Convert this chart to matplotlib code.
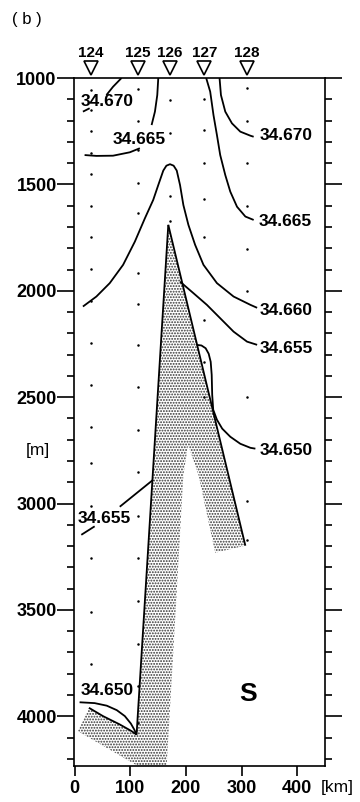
import matplotlib
matplotlib.use('Agg')
import numpy as np
import matplotlib.pyplot as plt
import matplotlib.transforms as mtransforms
from matplotlib.ticker import MultipleLocator

plt.rcParams['font.family'] = ['Liberation Sans', 'DejaVu Sans']
plt.rcParams['hatch.linewidth'] = 0.9

# stations along the section (distance in km)
stations = ['124', '125', '126', '127', '128']
station_km = [29, 114, 171, 233, 310]

# bottle depths (m) at each station
bottle_depths = {
    29: [1056, 1150, 1249, 1352, 1451, 1601, 1747, 1897, 2047, 2245, 2442,
         2639, 2808, 3010, 3255, 3508, 3752],
    114: [1053, 1202, 1338, 1495, 1636, 1915, 2062, 2257, 2453, 2653, 2852,
          3060, 3256, 3457, 3658, 3856, 4031],
    171: [1103, 1258, 1554, 1672],
    233: [1100, 1244, 1398, 1568, 1745, 2137, 2335, 2498],
    310: [1048, 1202, 1401, 1601, 1803, 2000, 2497, 2990, 3170],
}

# salinity isolines, (km, depth) pairs; None marks a break for a label
iso_670_w = [(84.3, 1000), (69.1, 1041), (57.2, 1080), None,
             (27.1, 1142), (15, 1158)]
iso_665_w = [(150.4, 1000), (148.6, 1080), (144.4, 1158), (138.4, 1221), None,
             (117.3, 1330), (99.3, 1349), (69.1, 1365), (39.2, 1366),
             (18, 1362)]
iso_670_e = [(260.5, 1000), (263, 1080), (270.8, 1158), (282.8, 1213),
             (297.8, 1252), (315.9, 1271), (321.8, 1276)]
iso_665_e = [(236.5, 1000), (243.7, 1064), (249.6, 1174), (255.8, 1268),
             (261.7, 1362), (270.8, 1456), (279.8, 1534), (291.9, 1605),
             (306.9, 1651), (321.8, 1667)]
iso_660 = [(15, 2074), (39.2, 2027), (63.2, 1964), (87.2, 1878), (108.3, 1769),
           (126.4, 1659), (141.3, 1573), (150.4, 1503), (159.4, 1435),
           (165, 1412), (171.5, 1405), (178, 1412), (183.6, 1435),
           (189.5, 1503), (195.5, 1597), (204.5, 1690), (216.6, 1784),
           (231.6, 1878), (255.8, 1964), (285.7, 2027), (315.9, 2066),
           (328, 2080)]
iso_655_e = [(189.5, 1957), (213.5, 2011), (237.7, 2066), (261.7, 2129),
             (285.7, 2192), (309.9, 2239), (328, 2254)]
iso_650_e = [(219, 2254), (228, 2257), (235.5, 2270), (241, 2296),
             (244.6, 2334), (246.4, 2395), (247.3, 2489), (249.1, 2559),
             (255.8, 2606), (265.3, 2648), (279.8, 2686), (297.8, 2719),
             (315.9, 2738), (324.9, 2742)]
iso_655_w = [(141.3, 2888), (81.2, 3015), None, (36.1, 3107), (12.1, 3147)]
core_west = [(168.4, 1690), (111.4, 4086)]
core_east = [(168.4, 1690), (306.9, 3198)]
iso_650_bw_upper = [(9, 3934), (36.1, 3938), (57.8, 3950), (75.8, 3971),
                    (90.3, 3999), (101.1, 4034), (107.4, 4063), (111.4, 4086)]
iso_650_bw_lower = [(25.8, 3960), (51, 3999), (81, 4038), (102, 4069),
                    (111.4, 4086)]

# low-salinity tongue (stippled)
tongue = [(168.4, 1690), (111.4, 4086), (102.3, 4070), (81.2, 4039), (51.1, 4000),
          (25.8, 3960), (6, 4070), (118, 4240), (165.3, 4240), (180.5, 3555),
          (195.5, 2865), (204, 2724), (222.6, 2865), (252.7, 3231),
          (306.9, 3198)]

# contour labels: text, km, depth
labels = [('34.670', 57.8, 1108), ('34.665', 115.5, 1287),
          ('34.670', 380.9, 1272), ('34.665', 379, 1672),
          ('34.660', 381, 2094), ('34.655', 381, 2273),
          ('34.650', 381, 2752), ('34.655', 54.2, 3071),
          ('34.650', 57.8, 3879)]

fig = plt.figure(figsize=(3.6, 8.02), dpi=100)
ax = fig.add_axes([0.2056, 0.0453, 0.6972, 0.8574])

ax.fill([p[0] for p in tongue], [p[1] for p in tongue], facecolor='white',
        edgecolor='0.2', hatch='......', linewidth=0)


def draw_line(pts):
    seg = []
    for p in pts + [None]:
        if p is None:
            if seg:
                ax.plot([q[0] for q in seg], [q[1] for q in seg], color='black',
                        lw=1.3, solid_capstyle='butt', solid_joinstyle='round')
            seg = []
        else:
            seg.append(p)


for line in [iso_670_w, iso_665_w, iso_670_e, iso_665_e, iso_660, iso_655_e,
             iso_650_e, iso_655_w, core_west, core_east, iso_650_bw_upper,
             iso_650_bw_lower]:
    draw_line(line)

for km, depths in bottle_depths.items():
    ax.plot([km] * len(depths), depths, 'o', color='black', markersize=1.8,
            markeredgewidth=0)

for txt, km, d in labels:
    ax.text(km, d, txt, ha='center', va='center', fontsize=12.5,
            fontweight='bold')
ax.text(311, 3893, 'S', ha='center', va='center', fontsize=19,
        fontweight='bold')

# station markers above the top axis
trans = mtransforms.blended_transform_factory(ax.transData, ax.transAxes)
ax.plot(station_km, [1.0145] * len(station_km), 'v', markersize=9.5,
        markerfacecolor='white', markeredgecolor='black', markeredgewidth=1.2,
        transform=trans, clip_on=False)
for name, km in zip(stations, station_km):
    ax.text(km, 1.036, name, transform=trans, ha='center', va='center',
            fontsize=11, fontweight='bold')

ax.set_xlim(-1, 450)
ax.set_ylim(4232, 1000)

ax.set_xticks([0, 100, 200, 300, 400])
ax.yaxis.set_major_locator(MultipleLocator(500))
ax.yaxis.set_minor_locator(MultipleLocator(100))
ax.tick_params(axis='x', direction='out', length=7, width=1.2, pad=3,
               labelsize=13)
ax.tick_params(axis='y', which='major', direction='out', length=12, width=1.2,
               pad=0.5, labelsize=13, right=True)
ax.tick_params(axis='y', which='minor', direction='out', length=5, width=1.2,
               right=True)
for lab in ax.get_xticklabels() + ax.get_yticklabels():
    lab.set_fontweight('bold')
for sp in ax.spines.values():
    sp.set_linewidth(1.2)

fig.text(0.104, 0.4377, '[m]', ha='center', va='center', fontsize=12.5)
fig.text(0.9375, 0.0175, '[km]', ha='center', va='center', fontsize=12.5)
fig.text(0.075, 0.976, '( b )', ha='center', va='center', fontsize=12)

fig.savefig('out.png', dpi=100)
